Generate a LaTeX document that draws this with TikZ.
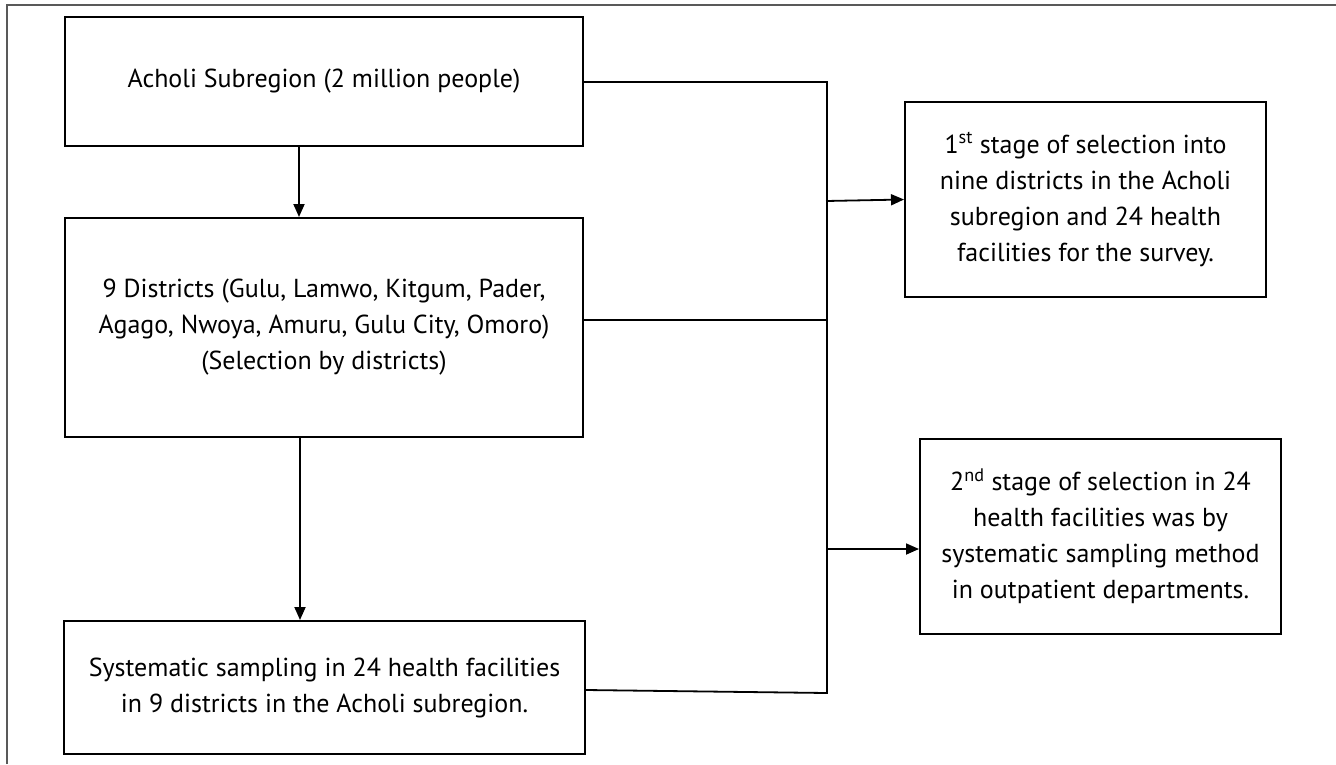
\documentclass[tikz,border=0pt]{standalone}
\usepackage{fontspec}
\setmainfont{PT Sans}
\usetikzlibrary{arrows.meta}
\tikzstyle{box}=[draw, line width=2pt, rectangle, align=center, inner sep=0pt]
\tikzstyle{link}=[line width=1.8pt]
\tikzstyle{arr}=[line width=1.8pt, -{Triangle[length=13pt, width=11pt]}]

\begin{document}
\begin{tikzpicture}[x=1pt, y=-1pt, font=\fontsize{26}{36}\selectfont]
\useasboundingbox (0,0) rectangle (1336,764);
% Frame
    \draw[gray!70!black, line width=1.5pt] (7,764) -- (7,5) -- (1336,5);
% Boxes
    \node[box, minimum width=518pt, minimum height=129pt] (acholi) at (324,81.5)
        {Acholi Subregion (2 million people)};
    \node[box, minimum width=518pt, minimum height=219pt] (districts) at (324,327.5)
        {9 Districts (Gulu, Lamwo, Kitgum, Pader,\\ Agago, Nwoya, Amuru, Gulu City, Omoro)\\ (Selection by districts)};
    \node[box, minimum width=521pt, minimum height=133pt] (sampling) at (324.5,687.5)
        {Systematic sampling in 24 health facilities\\ in 9 districts in the Acholi subregion.};
    \node[box, minimum width=361pt, minimum height=195pt] (stage1) at (1085.5,199.5)
        {1\textsuperscript{st} stage of selection into\\ nine districts in the Acholi\\ subregion and 24 health\\ facilities for the survey.};
    \node[box, minimum width=361pt, minimum height=195pt] (stage2) at (1100.5,536.5)
        {2\textsuperscript{nd} stage of selection in 24\\ health facilities was by\\ systematic sampling method\\ in outpatient departments.};
% Bus points
    \coordinate (bustop) at (827,82);
    \coordinate (busbot) at (827,693);
    \coordinate (j1) at (826,201);
    \coordinate (j2) at (827,549);
% Down arrows
    \draw[arr] ([xshift=-25pt]acholi.south) -- ([xshift=-25pt]districts.north);
    \draw[arr] ([xshift=-24pt]districts.south) -- ([xshift=-24pt]districts.south |- sampling.north);
% Links to the bus
    \draw[link] (acholi.east |- bustop) -- (bustop) -- (busbot) -- ([yshift=-2.5pt]sampling.east);
    \draw[link] ([yshift=7.5pt]districts.east) -- ([yshift=7.5pt]districts.east -| bustop);
% Arrows to stages
    \draw[arr] (j1) -- (stage1.west);
    \draw[arr] (j2) -- (j2 -| stage2.west);
\end{tikzpicture}
\end{document}
